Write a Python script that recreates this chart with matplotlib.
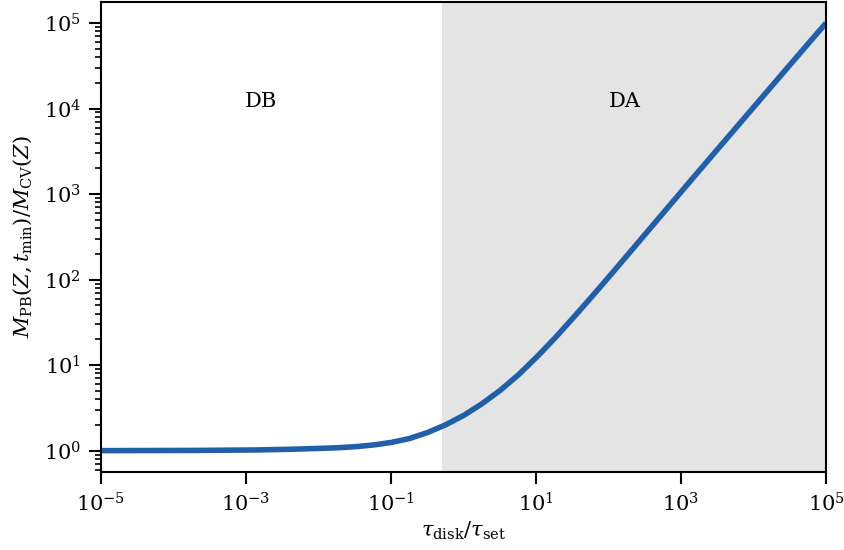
import numpy as np
import matplotlib
matplotlib.use("Agg")
import matplotlib.pyplot as plt
from matplotlib.ticker import NullLocator, LogLocator

plt.rcParams['font.family'] = 'DejaVu Serif'
plt.rcParams['mathtext.fontset'] = 'dejavuserif'

# values (log10 of x and of y)
log_tau_ratio = [-5.0, -4.0, -3.0, -2.5, -2.0, -1.75, -1.5, -1.25, -1.0, -0.75, -0.5, -0.25,
                 0.0, 0.25, 0.5, 0.75, 1.0, 1.25, 1.5, 1.75, 2.0, 2.5, 3.0, 3.5, 4.0, 4.5, 5.0]
log_mass_ratio = [0.0, 0.001, 0.006, 0.013, 0.025, 0.033, 0.045, 0.065, 0.095, 0.14, 0.21, 0.30,
                  0.41, 0.545, 0.70, 0.88, 1.085, 1.305, 1.54, 1.78, 2.025, 2.525, 3.025, 3.52, 4.015, 4.508, 5.0]

da_start = 0.5
x_ticks = [1e-5, 1e-3, 1e-1, 1e1, 1e3, 1e5]

fig, ax = plt.subplots(figsize=(8.45, 5.5), dpi=100)
fig.subplots_adjust(left=0.1195, right=0.9775, top=0.997, bottom=0.1418)

ax.axvspan(da_start, 1e5, color='#e4e4e4', lw=0, zorder=0)

# fill in between the read points in log space so the line is drawn smoothly
fine = np.linspace(log_tau_ratio[0], log_tau_ratio[-1], 600)
ax.plot(10**fine, 10**np.interp(fine, log_tau_ratio, log_mass_ratio),
        color='#225fa9', lw=4, solid_capstyle='butt')

ax.set_xscale('log')
ax.set_yscale('log')
ax.set_xlim(1e-5, 1e5)
ax.set_xticks(x_ticks)
ax.xaxis.set_minor_locator(NullLocator())
ax.yaxis.set_major_locator(LogLocator(base=10, numticks=10))

ax.text(10**-2.79, 10**4.08, 'DB', ha='center', va='center', fontsize=15)
ax.text(10**2.22, 10**4.08, 'DA', ha='center', va='center', fontsize=15)

ax.set_xlabel(r'$\tau_{\rm disk}/\tau_{\rm set}$', fontsize=15, labelpad=3)
ax.set_ylabel(r'$M_{\rm PB}(Z, t_{\rm min})/M_{\rm CV}(Z)$', fontsize=15)
ax.yaxis.set_label_coords(-0.092, 0.5)

ax.tick_params(which='major', labelsize=15, length=8.5, width=1.5, pad=6, direction='out')
ax.tick_params(which='minor', length=4, width=1.2, direction='out')
for sp in ax.spines.values():
    sp.set_linewidth(1.5)

fig.savefig('out.png', dpi=100)
